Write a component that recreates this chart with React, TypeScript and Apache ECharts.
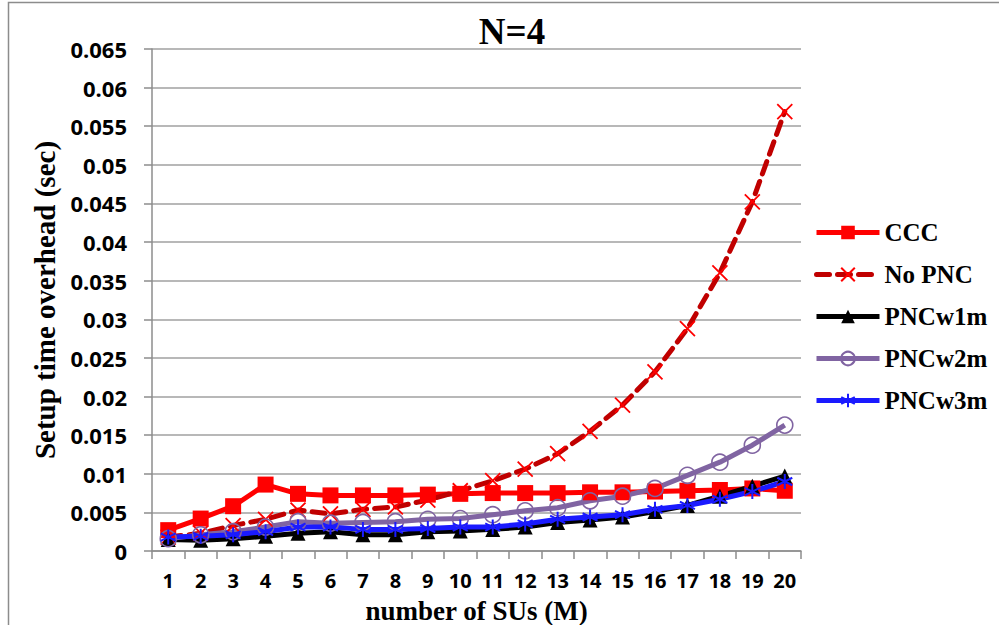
import React, { useEffect, useRef } from "react";
import * as echarts from "echarts";

const categories = ["1", "2", "3", "4", "5", "6", "7", "8", "9", "10", "11", "12", "13", "14", "15", "16", "17", "18", "19", "20"];
const ccc = [0.0027, 0.0042, 0.0058, 0.0086, 0.0074, 0.0072, 0.0072, 0.0072, 0.0073, 0.0074, 0.0075, 0.0075, 0.0075, 0.0076, 0.0076, 0.0077, 0.0078, 0.0079, 0.0081, 0.0078];
const noPnc = [0.0018, 0.0023, 0.0033, 0.0041, 0.0053, 0.0048, 0.0054, 0.0057, 0.0066, 0.0078, 0.0091, 0.0106, 0.0126, 0.0155, 0.0189, 0.0232, 0.0288, 0.036, 0.0452, 0.0569];
const pncw1m = [0.0015, 0.0014, 0.0016, 0.0019, 0.0023, 0.0025, 0.0021, 0.0021, 0.0025, 0.0026, 0.0028, 0.0031, 0.0037, 0.004, 0.0044, 0.0051, 0.0059, 0.0071, 0.0084, 0.0097];
const pncw2m = [0.0016, 0.0021, 0.0025, 0.0031, 0.0038, 0.0036, 0.0037, 0.0038, 0.0041, 0.0042, 0.0047, 0.0052, 0.0056, 0.0065, 0.0071, 0.0081, 0.0098, 0.0115, 0.0137, 0.0163];
const pncw3m = [0.0018, 0.0019, 0.0021, 0.0025, 0.0031, 0.0031, 0.0028, 0.0028, 0.0029, 0.0031, 0.0031, 0.0035, 0.0041, 0.0044, 0.0047, 0.0054, 0.0059, 0.0067, 0.0077, 0.009];
const seriesNames = ["CCC", "No PNC", "PNCw1m", "PNCw2m", "PNCw3m"];
const titleText = "N=4";
const xName = "number of SUs (M)";
const yName = "Setup time overhead (sec)";

const X_PATH = "path://M0,0L10,10M10,0L0,10";
const STAR_PATH = "path://M5,0L5,10M0.7,2.5L9.3,7.5M0.7,7.5L9.3,2.5";

export default function App() {
  const ref = useRef<HTMLDivElement>(null);
  useEffect(() => {
    if (!ref.current) return;
    const chart = echarts.init(ref.current, null, { renderer: "svg" });
    const serif = "'Liberation Serif', 'Times New Roman', serif";
    const sans = "'Open Sans', sans-serif";
    chart.setOption({
      animation: false,
      backgroundColor: "#ffffff",
      title: {
        text: titleText,
        left: 507,
        top: 8,
        textAlign: "center",
        textStyle: { fontFamily: serif, fontWeight: "bold", fontSize: 37, color: "#000" },
      },
      graphic: [
        {
          type: "rect",
          silent: true,
          z: -10,
          shape: { x: 8.5, y: 2.5, width: 1100, height: 800 },
          style: { fill: "none", stroke: "#8c8c8c", lineWidth: 1.5 },
        },
      ],
      legend: {
        orient: "vertical",
        left: 809,
        top: 215,
        itemWidth: 63,
        itemHeight: 17,
        itemGap: 17,
        data: seriesNames,
        lineStyle: { width: 5 },
        textStyle: { fontFamily: serif, fontWeight: "bold", fontSize: 25, color: "#000" },
      },
      grid: { left: 152, right: 198, top: 49, bottom: 74, outerBoundsMode: "none", containLabel: false },
      xAxis: {
        type: "category",
        data: categories,
        boundaryGap: true,
        name: xName,
        nameLocation: "middle",
        nameMoveOverlap: false,
        nameGap: 47,
        nameTextStyle: { fontFamily: serif, fontWeight: "bold", fontSize: 27, lineHeight: 26, color: "#000" },
        axisLine: { lineStyle: { color: "#8c8c8c", width: 1.5 } },
        axisTick: { show: true, length: 8, inside: false, alignWithLabel: false, lineStyle: { color: "#8c8c8c", width: 1.5 } },
        axisLabel: { margin: 20, fontFamily: sans, fontWeight: "bold", fontSize: 20, lineHeight: 18, color: "#000", interval: 0 },
        splitLine: { show: false },
      },
      yAxis: {
        type: "value",
        min: 0,
        max: 0.065,
        interval: 0.005,
        name: yName,
        nameLocation: "middle",
        nameGap: 92,
        nameTextStyle: { fontFamily: serif, fontWeight: "bold", fontSize: 29, color: "#000" },
        axisLine: { show: true, lineStyle: { color: "#8c8c8c", width: 1.5 } },
        axisTick: { show: true, length: 8, lineStyle: { color: "#8c8c8c", width: 1.5 } },
        axisLabel: {
          margin: 25,
          fontFamily: sans,
          fontWeight: "bold",
          fontSize: 22,
          color: "#000",
          formatter: (v: number) => String(+v.toFixed(3)),
        },
        splitLine: { show: true, lineStyle: { color: "#a0a0a0", width: 1.5 } },
      },
      series: [
        {
          name: seriesNames[0],
          type: "line",
          data: ccc,
          color: "#ff0000",
          symbol: "rect",
          symbolSize: 16,
          lineStyle: { color: "#ff0000", width: 5 },
          itemStyle: { color: "#ff0000" },
        },
        {
          name: seriesNames[1],
          type: "line",
          data: noPnc,
          color: "#c00000",
          symbol: X_PATH,
          symbolSize: 15,
          lineStyle: { color: "#c00000", width: 5, type: [13, 8], cap: "round" },
          itemStyle: { color: "transparent", borderColor: "#ff0000", borderWidth: 1.8 },
        },
        {
          name: seriesNames[2],
          type: "line",
          data: pncw1m,
          color: "#000000",
          symbol: "triangle",
          symbolSize: 15,
          lineStyle: { color: "#000000", width: 5 },
          itemStyle: { color: "#000000" },
        },
        {
          name: seriesNames[3],
          type: "line",
          data: pncw2m,
          color: "#8064a2",
          symbol: "circle",
          symbolSize: 16,
          lineStyle: { color: "#8064a2", width: 5 },
          itemStyle: { color: "transparent", borderColor: "#8064a2", borderWidth: 1.6 },
        },
        {
          name: seriesNames[4],
          type: "line",
          data: pncw3m,
          color: "#1a1aff",
          symbol: STAR_PATH,
          symbolSize: 15,
          lineStyle: { color: "#1a1aff", width: 5 },
          itemStyle: { color: "transparent", borderColor: "#1a1aff", borderWidth: 2 },
        },
      ],
    });
    return () => chart.dispose();
  }, []);
  return <div ref={ref} style={{ position: "absolute", left: 0, top: 0, width: 999, height: 625 }} />;
}
